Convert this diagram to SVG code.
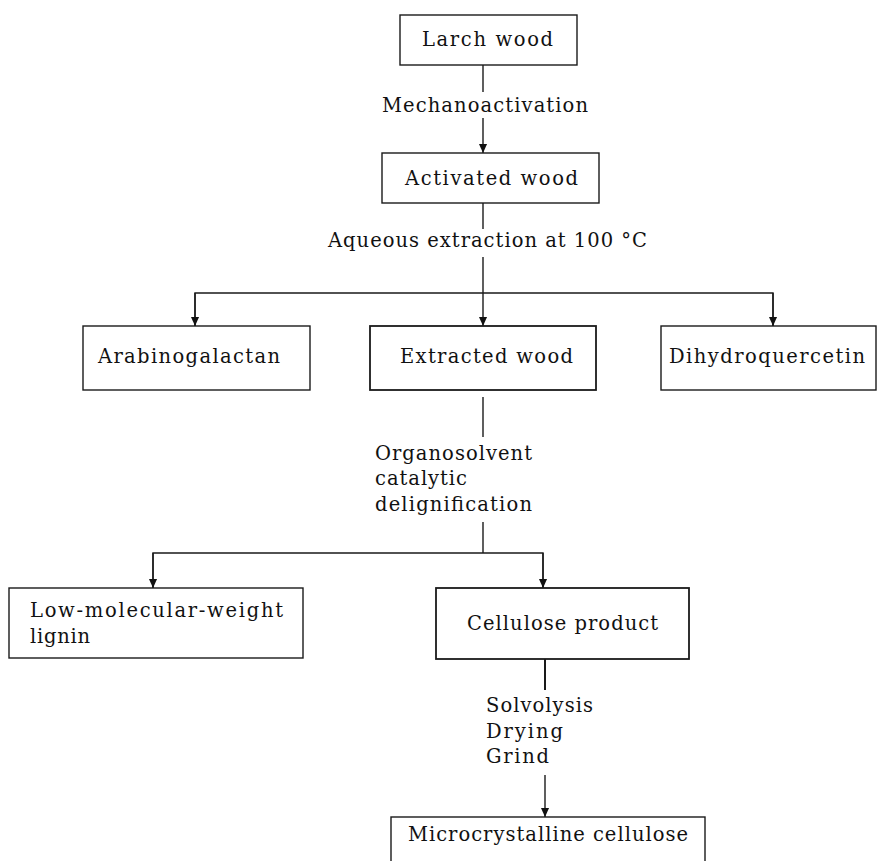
<svg xmlns="http://www.w3.org/2000/svg" width="877" height="861" viewBox="0 0 877 861">
<defs>
<style>
.box{fill:#fff;stroke:#1a1a1a;stroke-width:1.4}
.t{font-family:"DejaVu Serif","Liberation Serif",serif;font-size:19.5px;fill:#111}
.c{fill:none;stroke:#1a1a1a;stroke-width:1.4}
</style>
<marker id="ah" viewBox="0 0 10 10" refX="10" refY="5" markerWidth="12" markerHeight="9" orient="auto" markerUnits="userSpaceOnUse"><path d="M0,0.5 L10,5 L0,9.5 z" fill="#111"/></marker>
</defs>
<rect width="877" height="861" fill="#fff"/>
<g id="connectors">
<line class="c" x1="483" y1="65" x2="483" y2="92"/>
<line class="c" x1="483" y1="118" x2="483" y2="153" marker-end="url(#ah)"/>
<line class="c" x1="483" y1="203" x2="483" y2="229"/>
<line class="c" x1="483" y1="257" x2="483" y2="326" marker-end="url(#ah)"/>
<polyline class="c" points="195,326 195,293 773,293 773,326"/>
<line class="c" x1="195" y1="293" x2="195" y2="326" marker-end="url(#ah)"/>
<line class="c" x1="773" y1="293" x2="773" y2="326" marker-end="url(#ah)"/>
<line class="c" x1="483" y1="397" x2="483" y2="437"/>
<line class="c" x1="483" y1="522" x2="483" y2="553"/>
<polyline class="c" points="153,588 153,553 543,553 543,588"/>
<line class="c" x1="153" y1="553" x2="153" y2="588" marker-end="url(#ah)"/>
<line class="c" x1="543" y1="553" x2="543" y2="588" marker-end="url(#ah)"/>
<line class="c" x1="545" y1="659" x2="545" y2="690" style="stroke-width:2"/>
<line class="c" x1="545" y1="775" x2="545" y2="817" marker-end="url(#ah)"/>
</g>
<g id="labels">
<text class="t" x="382" y="112" textLength="206" lengthAdjust="spacing">Mechanoactivation</text>
<text class="t" x="328" y="247" textLength="319" lengthAdjust="spacing">Aqueous extraction at 100 °C</text>
<text class="t" x="375" y="460" textLength="157" lengthAdjust="spacing">Organosolvent</text>
<text class="t" x="375" y="485" textLength="92" lengthAdjust="spacing">catalytic</text>
<text class="t" x="375" y="511" textLength="157" lengthAdjust="spacing">delignification</text>
<text class="t" x="486" y="712" textLength="107" lengthAdjust="spacing">Solvolysis</text>
<text class="t" x="486" y="738" textLength="77" lengthAdjust="spacing">Drying</text>
<text class="t" x="486" y="763" textLength="63" lengthAdjust="spacing">Grind</text>
</g>
<g id="larch-wood">
<rect class="box" x="400" y="15" width="177" height="50"/>
<text class="t" x="422" y="46" textLength="131" lengthAdjust="spacing">Larch wood</text>
</g>
<g id="activated-wood">
<rect class="box" x="382" y="153" width="217" height="50"/>
<text class="t" x="405" y="185" textLength="173" lengthAdjust="spacing">Activated wood</text>
</g>
<g id="arabinogalactan">
<rect class="box" x="83" y="326" width="227" height="64"/>
<text class="t" x="98" y="363" textLength="182" lengthAdjust="spacing">Arabinogalactan</text>
</g>
<g id="extracted-wood">
<rect class="box" x="370" y="326" width="226" height="64" style="stroke-width:1.8"/>
<text class="t" x="400" y="363" textLength="173" lengthAdjust="spacing">Extracted wood</text>
</g>
<g id="dihydroquercetin">
<rect class="box" x="661" y="326" width="215" height="64"/>
<text class="t" x="669" y="363" textLength="196" lengthAdjust="spacing">Dihydroquercetin</text>
</g>
<g id="lignin">
<rect class="box" x="9" y="588" width="294" height="70"/>
<text class="t" x="30" y="617" textLength="253" lengthAdjust="spacing">Low-molecular-weight</text>
<text class="t" x="30" y="643" textLength="60" lengthAdjust="spacing">lignin</text>
</g>
<g id="cellulose-product">
<rect class="box" x="436" y="588" width="253" height="71" style="stroke-width:1.8"/>
<text class="t" x="467" y="630" textLength="191" lengthAdjust="spacing">Cellulose product</text>
</g>
<g id="microcrystalline-cellulose">
<rect class="box" x="391" y="817" width="314" height="60"/>
<text class="t" x="408" y="841" textLength="280" lengthAdjust="spacing">Microcrystalline cellulose</text>
</g>
</svg>
